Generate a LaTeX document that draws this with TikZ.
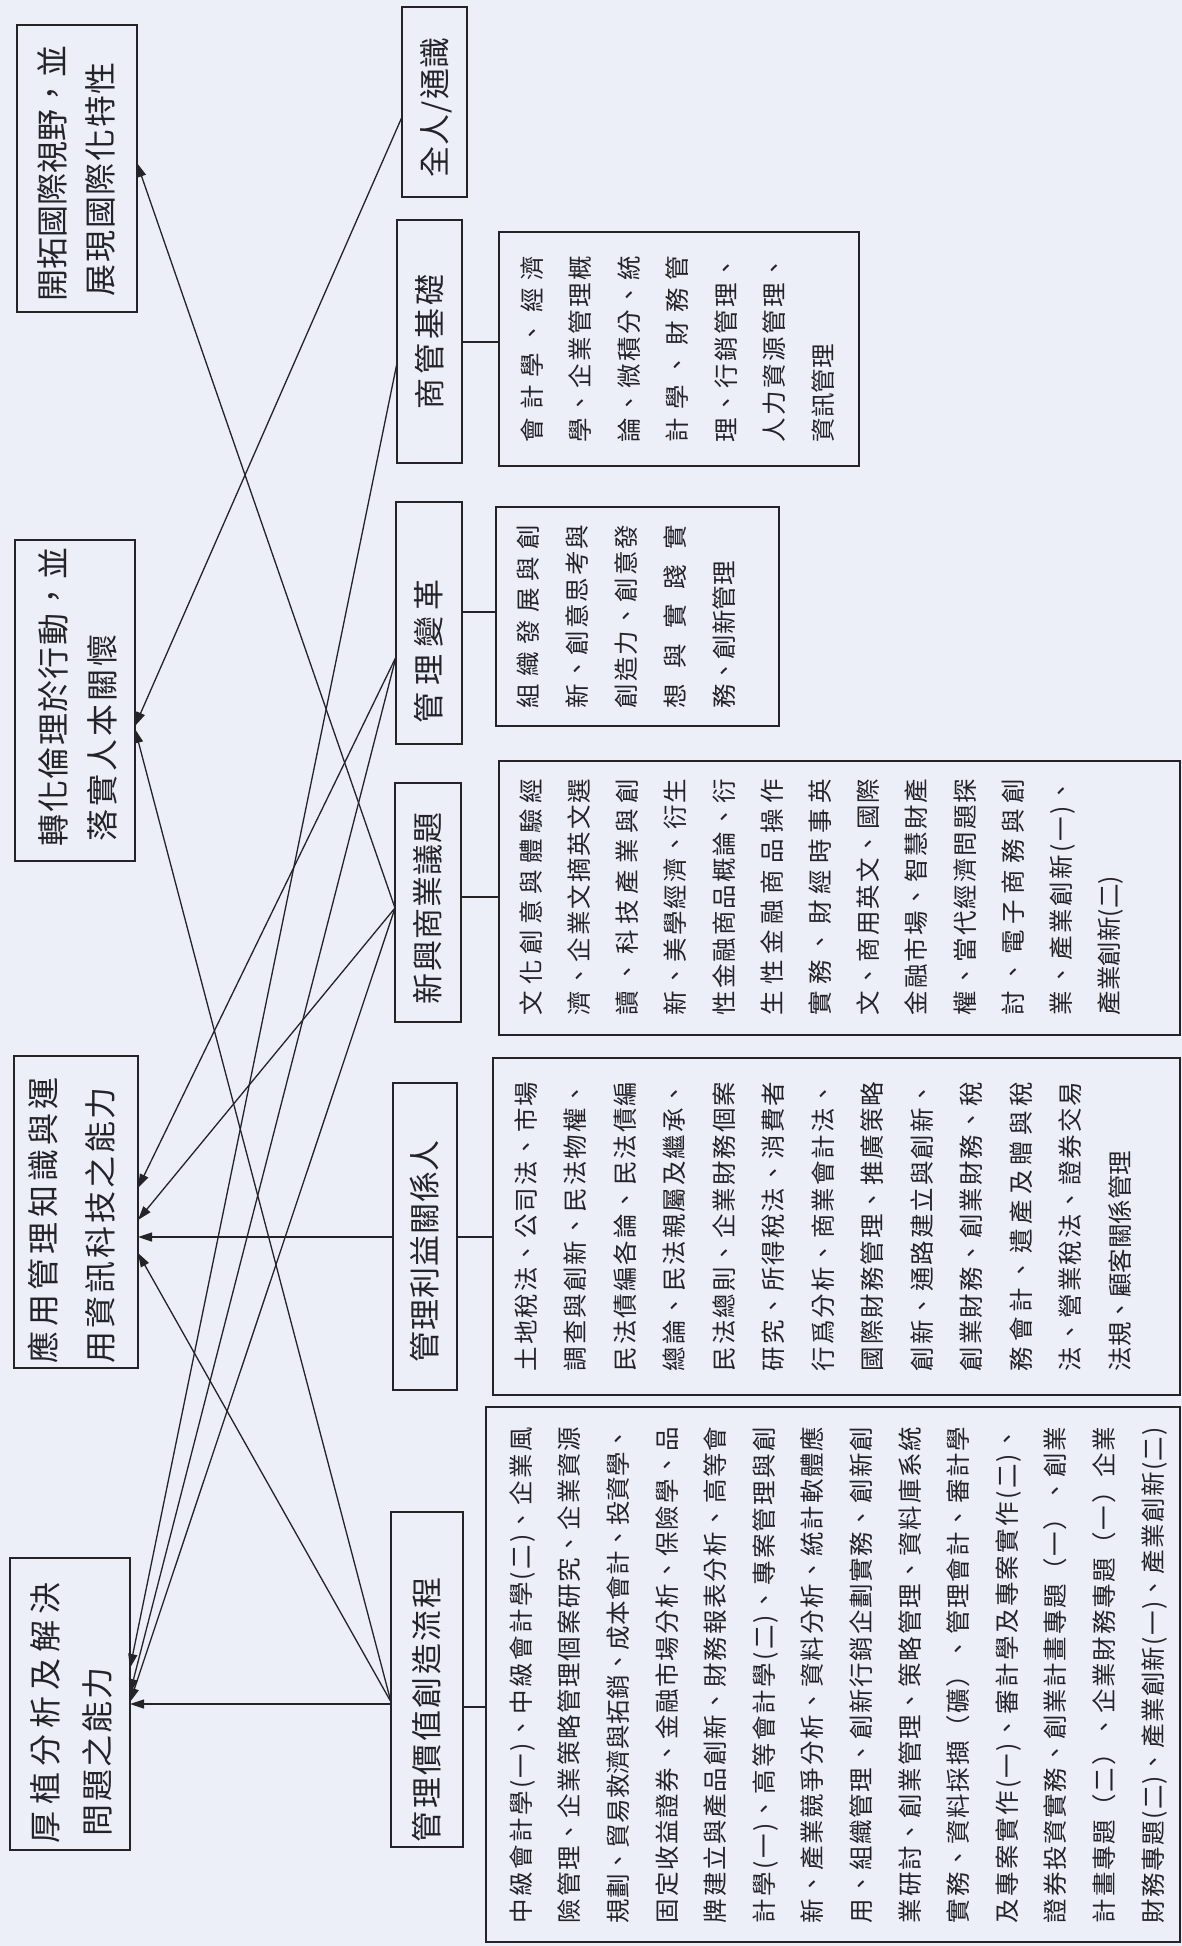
\documentclass[tikz,border=0pt]{standalone}
\usepackage{fontspec}
\usepackage{graphicx}
\usetikzlibrary{arrows.meta,calc}
\newfontfamily\cjk{Noto Sans CJK TC}
\definecolor{bg}{RGB}{236,238,248}
\definecolor{ink}{RGB}{35,35,40}
\makeatletter
\def\spreadchars#1{\spr@a#1\relax}
\def\spr@a#1{#1\spr@b}
\def\spr@b#1{\ifx\relax#1\else\hfil#1\expandafter\spr@b\fi}
\makeatother
\newlength\bxh
\newcommand\JL[3]{\hbox to\bxh{\hskip#1\relax\hbox to #2{\spreadchars{#3}}\hss}}
\newcommand\NL[2]{\hbox to\bxh{\hskip#1\relax#2\hss}}
\newcommand\boxtext[5]{\rotatebox{90}{\vbox to #1{\setlength\bxh{#2}\hsize=#2\relax\baselineskip=#4\relax\lineskip=0pt\relax\lineskiplimit=-\maxdimen\vskip\dimexpr#3-#4\relax\hbox{}#5\vfil}}}
\tikzset{
 bx/.style={draw=ink, line width=1.8pt, inner sep=0pt, outer sep=0pt, rectangle, text=ink},
 outc/.style={bx, font=\cjk\fontsize{32pt}{40pt}\selectfont},
 catg/.style={bx, font=\cjk\fontsize{31pt}{40pt}\selectfont},
 cont/.style={bx, font=\cjk\fontsize{24.5pt}{40pt}\selectfont},
 arr/.style={draw=ink, line width=1.3pt, -{Triangle[length=14pt,width=9pt]}},
 stub/.style={draw=ink, line width=1.3pt},
}
\begin{document}
\begin{tikzpicture}[x=1pt,y=-1pt]
\fill[bg] (0,0) rectangle (1182,1946);
\useasboundingbox (0,0) rectangle (1182,1946);
% outcomes
\node[outc, minimum width=120pt, minimum height=292pt] (o1) at (70,1704) {\boxtext{120pt}{292pt}{47.2pt}{52pt}{\JL{7pt}{261pt}{厚植分析及解決}\JL{14pt}{169pt}{問題之能力}}};
\node[outc, minimum width=124pt, minimum height=312pt] (o2) at (76,1212) {\boxtext{124pt}{312pt}{41.2pt}{57pt}{\JL{5pt}{286pt}{應用管理知識與運}\JL{5pt}{276pt}{用資訊科技之能力}}};
\node[outc, minimum width=120pt, minimum height=321pt] (o3) at (75,700.5) {\boxtext{120pt}{321pt}{50.2pt}{49pt}{\JL{15pt}{299pt}{轉化倫理於行動，並}\JL{20pt}{207pt}{落實人本關懷}}};
\node[outc, minimum width=120pt, minimum height=287pt] (o4) at (77,168.5) {\boxtext{120pt}{287pt}{47.2pt}{48pt}{\JL{11pt}{255pt}{開拓國際視野，並}\JL{16pt}{234pt}{展現國際化特性}}};
% categories
\node[catg, minimum width=65pt, minimum height=190pt] (c1) at (434.5,102) {\boxtext{65pt}{190pt}{44.3pt}{40pt}{\JL{20pt}{140pt}{全人/通識}}};
\node[catg, minimum width=65pt, minimum height=243pt] (c2) at (429.5,341.5) {\boxtext{65pt}{243pt}{44.3pt}{40pt}{\JL{54pt}{135pt}{商管基礎}}};
\node[catg, minimum width=66pt, minimum height=242pt] (c3) at (429,623) {\boxtext{66pt}{242pt}{44.8pt}{40pt}{\JL{21pt}{144pt}{管理變革}}};
\node[catg, minimum width=66pt, minimum height=239pt] (c4) at (428,902.5) {\boxtext{66pt}{239pt}{44.8pt}{40pt}{\JL{18pt}{192pt}{新興商業議題}}};
\node[catg, minimum width=64pt, minimum height=307pt] (c5) at (425,1236.5) {\boxtext{64pt}{307pt}{43.8pt}{40pt}{\JL{28pt}{222pt}{管理利益關係人}}};
\node[catg, minimum width=72pt, minimum height=335pt] (c6) at (427,1679.5) {\boxtext{72pt}{335pt}{47.8pt}{40pt}{\JL{5pt}{265pt}{管理價值創造流程}}};
% contents
\node[cont, minimum width=360pt, minimum height=234pt] (k2) at (679,349) {\boxtext{360pt}{234pt}{42.3pt}{48.5pt}{%
\JL{24pt}{186pt}{會計學、經濟}%
\JL{24pt}{186pt}{學、企業管理概}%
\JL{24pt}{186pt}{論、微積分、統}%
\JL{24pt}{186pt}{計學、財務管}%
\JL{24pt}{186pt}{理、行銷管理、}%
\JL{24pt}{186pt}{人力資源管理、}%
\NL{24pt}{資訊管理}}};
\node[cont, minimum width=283pt, minimum height=219pt] (k3) at (637.5,616.5) {\boxtext{283pt}{219pt}{41.3pt}{49pt}{%
\JL{18pt}{183pt}{組織發展與創}%
\JL{18pt}{183pt}{新、創意思考與}%
\JL{18pt}{183pt}{創造力、創意發}%
\JL{18pt}{183pt}{想與實踐實}%
\NL{18pt}{務、創新管理}}};
\node[cont, minimum width=681pt, minimum height=274pt] (k4) at (839.5,898) {\boxtext{681pt}{274pt}{41.3pt}{48.2pt}{%
\JL{20pt}{236pt}{文化創意與體驗經}%
\JL{20pt}{236pt}{濟、企業文摘英文選}%
\JL{20pt}{236pt}{讀、科技產業與創}%
\JL{20pt}{236pt}{新、美學經濟、衍生}%
\JL{20pt}{236pt}{性金融商品概論、衍}%
\JL{20pt}{236pt}{生性金融商品操作}%
\JL{20pt}{236pt}{實務、財經時事英}%
\JL{20pt}{236pt}{文、商用英文、國際}%
\JL{20pt}{236pt}{金融市場、智慧財產}%
\JL{20pt}{236pt}{權、當代經濟問題探}%
\JL{20pt}{236pt}{討、電子商務與創}%
\JL{20pt}{236pt}{業、產業創新(一)、}%
\NL{20pt}{產業創新(二)}}};
\node[cont, minimum width=687pt, minimum height=337pt] (k5) at (836.5,1226.5) {\boxtext{687pt}{337pt}{42.3pt}{49.5pt}{%
\JL{24pt}{289pt}{土地稅法、公司法、市場}%
\JL{24pt}{289pt}{調查與創新、民法物權、}%
\JL{24pt}{289pt}{民法債編各論、民法債編}%
\JL{24pt}{289pt}{總論、民法親屬及繼承、}%
\JL{24pt}{289pt}{民法總則、企業財務個案}%
\JL{24pt}{289pt}{研究、所得稅法、消費者}%
\JL{24pt}{289pt}{行爲分析、商業會計法、}%
\JL{24pt}{289pt}{國際財務管理、推廣策略}%
\JL{24pt}{289pt}{創新、通路建立與創新、}%
\JL{24pt}{289pt}{創業財務、創業財務、稅}%
\JL{24pt}{289pt}{務會計、遺產及贈與稅}%
\JL{24pt}{289pt}{法、營業稅法、證券交易}%
\NL{24pt}{法規、顧客關係管理}}};
\node[cont, minimum width=694pt, minimum height=535pt] (k6) at (833,1674.5) {\boxtext{694pt}{535pt}{44.3pt}{48.6pt}{%
\JL{19pt}{496pt}{中級會計學(一)、中級會計學(二)、企業風}%
\JL{19pt}{496pt}{險管理、企業策略管理個案研究、企業資源}%
\JL{19pt}{496pt}{規劃、貿易救濟與拓銷、成本會計、投資學、}%
\JL{19pt}{496pt}{固定收益證券、金融市場分析、保險學、品}%
\JL{19pt}{496pt}{牌建立與產品創新、財務報表分析、高等會}%
\JL{19pt}{496pt}{計學(一)、高等會計學(二)、專案管理與創}%
\JL{19pt}{496pt}{新、產業競爭分析、資料分析、統計軟體應}%
\JL{19pt}{496pt}{用、組織管理、創新行銷企劃實務、創新創}%
\JL{19pt}{496pt}{業研討、創業管理、策略管理、資料庫系統}%
\JL{19pt}{496pt}{實務、資料採擷（礦）、管理會計、審計學}%
\JL{19pt}{496pt}{及專案實作(一)、審計學及專案實作(二)、}%
\JL{19pt}{496pt}{證券投資實務、創業計畫專題（一）、創業}%
\JL{19pt}{496pt}{計畫專題（二）、企業財務專題（一）企業}%
\JL{19pt}{496pt}{財務專題(二)、產業創新(一)、產業創新(二)}}};
% stubs
\draw[stub] (c2.east |- 0,342) -- (k2.west |- 0,342);
\draw[stub] (c3.east |- 0,612) -- (k3.west |- 0,612);
\draw[stub] (c4.east |- 0,897) -- (k4.west |- 0,897);
\draw[stub] (c5.east |- 0,1237) -- (k5.west |- 0,1237);
\draw[stub] (c6.east |- 0,1707) -- (k6.west |- 0,1707);
% arrows
\draw[arr] (c1.west |- 0,117) -- (o3.east |- 0,726);
\draw[arr] (c2.west |- 0,363) -- (o1.east |- 0,1668);
\draw[arr] (c3.west |- 0,657) -- (o2.east |- 0,1188);
\draw[arr] (c3.west |- 0,657) -- (o1.east |- 0,1693);
\draw[arr] (c4.west |- 0,908) -- (o4.east |- 0,163);
\draw[arr] (c4.west |- 0,908) -- (o2.east |- 0,1220);
\draw[arr] (c4.west |- 0,908) -- (o1.east |- 0,1702);
\draw[arr] (c5.west |- 0,1237) -- (o2.east |- 0,1237);
\draw[arr] (c6.west |- 0,1704) -- (o1.east |- 0,1704);
\draw[arr] (c6.west |- 0,1702) -- (o2.east |- 0,1253);
\draw[arr] (c6.west |- 0,1702) -- (o3.east |- 0,729);
\end{tikzpicture}
\end{document}
